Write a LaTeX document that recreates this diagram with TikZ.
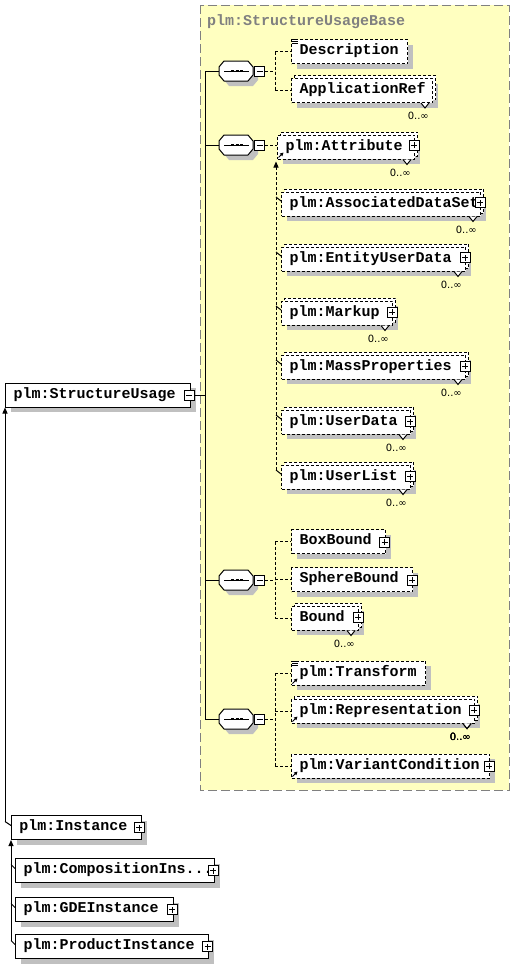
\documentclass[tikz,border=0pt]{standalone}
\usepackage{fontspec}
\setmonofont{Liberation Mono}
\newfontfamily\occfont{DejaVu Sans}
\usetikzlibrary{shadows,arrows.meta}
\definecolor{ylw}{RGB}{255,255,192}
\definecolor{shd}{RGB}{192,192,192}
\definecolor{frm}{RGB}{128,128,128}
\tikzset{
  elfont/.style={font=\ttfamily\bfseries\fontsize{15}{15}\selectfont},
  box/.style={draw, fill=white, line width=1pt, anchor=west, minimum height=24pt,
    inner xsep=8pt, inner ysep=0pt, elfont, text height=9pt, text depth=3pt,
    drop shadow={shadow xshift=5pt, shadow yshift=-5pt, fill=shd, opacity=1}},
  dbox/.style={box, dash pattern=on 3pt off 2pt},
  mbox/.style={dbox, general shadow={shadow xshift=3pt, shadow yshift=3pt, draw=black, fill=white, line width=1pt, dash pattern=on 3pt off 2pt}},
  tog/.style={draw, fill=white, solid, line width=1pt, minimum size=10pt, inner sep=0pt},
  togminus/.style={tog, path picture={\draw[line width=1pt] ([xshift=2pt]path picture bounding box.west) -- ([xshift=-2pt]path picture bounding box.east);}},
  togplus/.style={tog, path picture={\draw[line width=1pt] ([xshift=2pt]path picture bounding box.west) -- ([xshift=-2pt]path picture bounding box.east); \draw[line width=1pt] ([yshift=2pt]path picture bounding box.south) -- ([yshift=-2pt]path picture bounding box.north);}},
  conn/.style={line width=1pt, dash pattern=on 3pt off 2pt},
  solidln/.style={line width=1pt},
  occ/.style={font=\occfont\fontsize{10}{10}\selectfont, inner sep=0pt, anchor=east},
  tri/.style={-{Triangle[width=5pt,length=6pt]}},
}
\newcommand\el[6][box]{%
  \pgfmathsetmacro\elw{#4-#3-16}%
  \node[#1] (#2) at (#3,#5) {\makebox[\elw pt][l]{#6}};}
\newcommand\notch[1]{%
  \draw[solidln, fill=white] ([xshift=-12pt]#1.south east) -- ([xshift=-8pt,yshift=-5pt]#1.south east) -- ([xshift=-4pt]#1.south east);
  \node[occ] at ([xshift=-4pt,yshift=-13pt]#1.south east) {0..∞};}
\newcommand\docicon[1]{%
  \foreach \d in {0.5,2.5,4.5} \draw[line width=.8pt] ([xshift=1pt,yshift=-\d pt]#1.north west) -- ++(6pt,0pt);}
\newcommand\reficon[1]{%
  \draw[line width=.9pt, -{Triangle[width=3.5pt,length=3.5pt]}] ([xshift=1.5pt,yshift=2pt]#1.south west) -- ++(5pt,5pt);}
\newcommand\compo[2]{%
  \begin{scope}[shift={(0,#2)}]
    \fill[shd] (224,1) -- (229,-5) -- (253,-5) -- (258,1) -- (258,9) -- (253,15) -- (229,15) -- (224,9) -- cycle;
    \draw[solidln, fill=white] (219,-4) -- (224,-10) -- (248,-10) -- (253,-4) -- (253,4) -- (248,10) -- (224,10) -- (219,4) -- cycle;
    \draw[solidln] (224,0) -- (249,0);
    \draw[line width=2.5pt, dash pattern=on 3pt off 1.5pt] (231,0) -- (243,0);
    \node[togminus] (#1t) at (259.5,0) {};
    \coordinate (#1) at (219,0);
  \end{scope}}
\begin{document}
\begin{tikzpicture}[x=1pt,y=-1pt]
\useasboundingbox (0,0) rectangle (515,972);
\fill[white] (0,0) rectangle (515,972);
% base type region
\draw[frm, line width=1pt, dash pattern=on 9pt off 4pt, fill=ylw] (200,5) rectangle (509,790);
\node[elfont, text=frm, anchor=base west, inner sep=0pt] (title) at (207,25) {plm:StructureUsageBase};

% compositors
\compo{c1}{71}
\compo{c2}{145}
\compo{c3}{580}
\compo{c4}{719}

% main element
\el{SU}{5}{190}{395}{plm:StructureUsage}
\node[togminus] (SUt) at (189,395) {};

% spine
\coordinate (sp) at (205,0);
\coordinate (dx) at (275,0);
\draw[solidln] (c1 -| sp) -- (c4 -| sp);
\foreach \c in {c1,c2,c3,c4} \draw[solidln] (\c) -- (\c -| sp);
\draw[solidln] (SUt.east) -- (SUt.east -| sp);

% group 1
\el[dbox]{desc}{291}{407}{51.5}{Description}
\el[mbox]{appref}{291}{432}{90.5}{ApplicationRef}
\draw[conn] (c1t.east) -- (c1t.east -| dx);
\draw[conn] (dx |- desc.west) -- (dx |- appref.west);
\draw[conn] (dx |- desc.west) -- (desc.west);
\draw[conn] (dx |- appref.west) -- (appref.west);
\docicon{desc}

% group 2
\el[mbox]{ulist}{281}{410}{477}{plm:UserList}
\el[mbox]{udata}{281}{410}{422}{plm:UserData}
\el[mbox]{mass}{281}{465}{367}{plm:MassProperties}
\el[mbox]{markup}{281}{392}{313}{plm:Markup}
\el[mbox]{eud}{281}{465}{259}{plm:EntityUserData}
\el[mbox]{ads}{281}{480}{204}{plm:AssociatedDataSet}
\el[mbox]{attr}{277}{414}{147}{plm:Attribute}
\draw[conn] (c2t.east) -- (c2t.east -| attr.west);
\reficon{attr}
\draw[conn, tri] ([xshift=-5pt,yshift=7pt]ulist.west) -- ([xshift=-1pt,yshift=-2pt]attr.south west);
\foreach \m in {ads,eud,markup,mass,udata,ulist}
  \draw[solidln] ([xshift=-5pt,yshift=7pt]\m.west) -- ([yshift=3pt]\m.west);
\foreach \m in {appref,attr,ads,eud,markup,mass,udata,ulist} \notch{\m}
\node[togplus] (attrt) at (414,145) {};
\node[togplus] (adst) at (480,202.5) {};
\node[togplus] (eudt) at (465,257.5) {};
\node[togplus] (markupt) at (392,312) {};
\node[togplus] (masst) at (465,366) {};
\node[togplus] (udatat) at (410,421.5) {};
\node[togplus] (ulistt) at (410,476.5) {};

% group 3
\el[dbox]{boxb}{291}{385}{541.5}{BoxBound}
\el[dbox]{sphb}{291}{412}{579.5}{SphereBound}
\el[mbox]{bound}{291}{358}{618}{Bound}
\draw[conn] (c3t.east) -- (c3t.east -| dx);
\draw[conn] (dx |- boxb.west) -- (dx |- bound.west);
\foreach \m in {boxb,sphb,bound} \draw[conn] (dx |- \m.west) -- (\m.west);
\notch{bound}
\node[togplus] (boxbt) at (384.5,542) {};
\node[togplus] (sphbt) at (412,580) {};
\node[togplus] (boundt) at (358,617) {};

% group 4
\el[dbox]{transf}{291}{425}{673}{plm:Transform}
\el[mbox]{repr}{291}{474}{711}{plm:Representation}
\el[dbox]{varc}{291}{489}{766}{plm:VariantCondition}
\draw[conn] (c4t.east) -- (c4t.east -| dx);
\draw[conn] (dx |- transf.west) -- (dx |- varc.west);
\foreach \m in {transf,repr,varc} \draw[conn] (dx |- \m.west) -- (\m.west);
\docicon{transf}
\foreach \m in {transf,repr,varc} \reficon{\m}
\notch{repr}
\node[togplus] (reprt) at (474,710) {};
\node[togplus] (varct) at (489,766) {};

% derived types
\el{inst}{11}{141}{827.5}{plm:Instance}
\el{compi}{15}{214}{870.5}{plm:CompositionIns...}
\el{gde}{15}{173}{909.5}{plm:GDEInstance}
\el{prod}{15}{208}{946.5}{plm:ProductInstance}
\node[togplus] (instt) at (139,827.5) {};
\node[togplus] (compit) at (213,870.5) {};
\node[togplus] (gdet) at (172,909.5) {};
\node[togplus] (prodt) at (207.5,946.5) {};
\draw[solidln, tri] ([xshift=-6pt,yshift=6pt]inst.west) -- (SU.south west);
\draw[solidln] ([xshift=-6pt,yshift=6pt]inst.west) -- ([yshift=2pt]inst.west);
\draw[solidln, tri] ([xshift=-4pt,yshift=6pt]prod.west) -- (inst.south west);
\foreach \m in {compi,gde,prod}
  \draw[solidln] ([xshift=-4pt,yshift=6pt]\m.west) -- ([yshift=2pt]\m.west);
\end{tikzpicture}
\end{document}
